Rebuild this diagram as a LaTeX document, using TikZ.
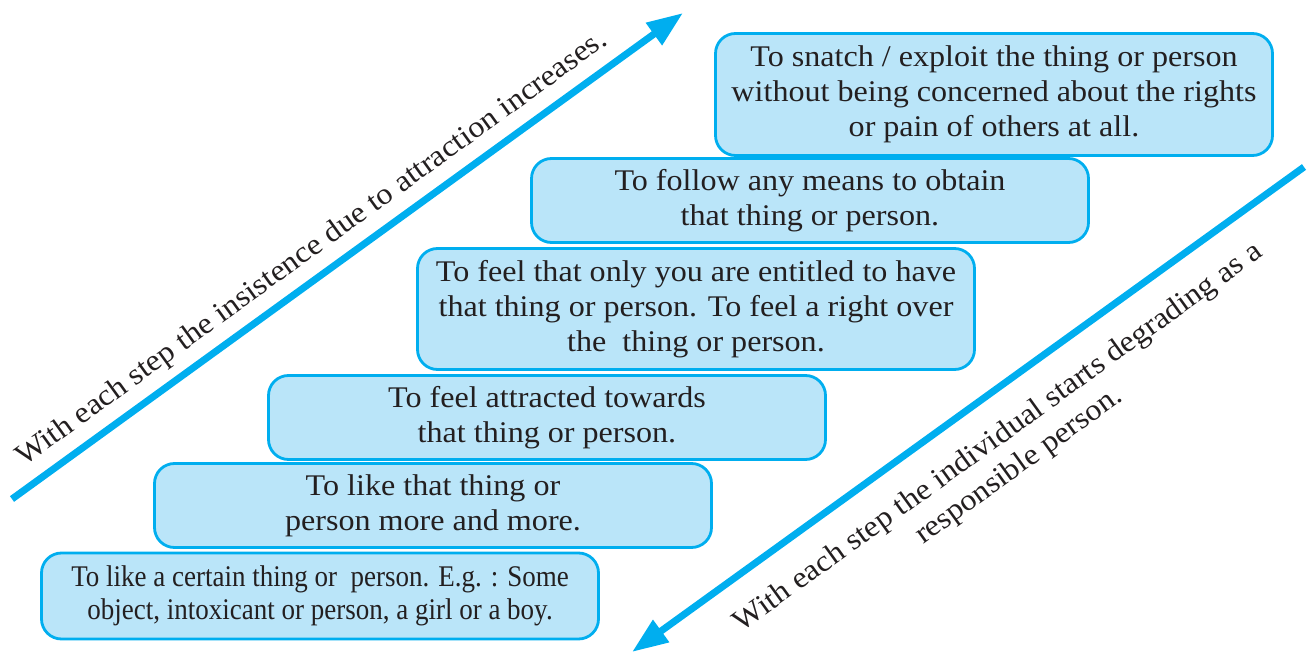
\documentclass[tikz,border=0pt]{standalone}
\usepackage{fontspec}
\setmainfont{Liberation Serif}[FakeStretch=1.07]
\newfontfamily\condfont{Liberation Serif}[FakeStretch=0.9]
\usetikzlibrary{arrows.meta, positioning}

\definecolor{stepblue}{HTML}{00AEEF}
\definecolor{stepfill}{HTML}{BAE5F9}
\definecolor{inktext}{HTML}{231F20}

\begin{document}
\begin{tikzpicture}[
    x=1pt, y=-1pt,
    stepbox/.style={draw=stepblue, fill=stepfill, line width=2.8pt, rounded corners=20pt,
        minimum width=557pt, inner sep=0pt, align=center, text=inktext,
        font=\fontsize{30}{35}\selectfont},
    trend/.style={draw=stepblue, line width=7pt, -{Triangle[length=36pt, width=26pt]}},
    trendtext/.style={sloped, inner sep=0pt, align=center, text=inktext,
        font=\fontsize{30}{35}\selectfont}
]
\useasboundingbox (0,0) rectangle (1309,660);

% Steps
\node[stepbox, minimum height=86pt, font=\condfont\fontsize{30}{33}\selectfont] (like) at (320,596)
    {To like a certain thing or\ \ person. E.g. : Some\\object, intoxicant or person, a girl or a boy.};
\node[stepbox, minimum height=84pt] (more) at (433,505.5)
    {To like that thing or\\person more and more.};
\node[stepbox, minimum height=84pt] (attract) at (547,417.5)
    {To feel attracted towards\\that thing or person.};
\node[stepbox, minimum height=121pt] (entitled) at (696,309)
    {To feel that only you are entitled to have\\that thing or person. To feel a right over\\the\ \ thing or person.};
\node[stepbox, minimum height=84pt] (obtain) at (810,200.5)
    {To follow any means to obtain\\that thing or person.};
\node[stepbox, minimum height=122pt] (snatch) at (994,94.5)
    {To snatch / exploit the thing or person\\without being concerned about the rights\\or pain of others at all.};

% Arrows
\coordinate (rise0) at (12,499);
\coordinate (rise1) at (683,13);
\coordinate (fall0) at (1304,167);
\coordinate (fall1) at (632,652);

\draw[trend] (rise0) -- (rise1)
    node[trendtext, pos=0.47, above=9pt] (riseText) {With each step the insistence due to attraction increases.};
\draw[trend] (fall0) -- (fall1)
    node[trendtext, pos=0.49, below=24pt] (fallText) {With each step the individual starts degrading as a\\responsible person.};

\end{tikzpicture}
\end{document}
